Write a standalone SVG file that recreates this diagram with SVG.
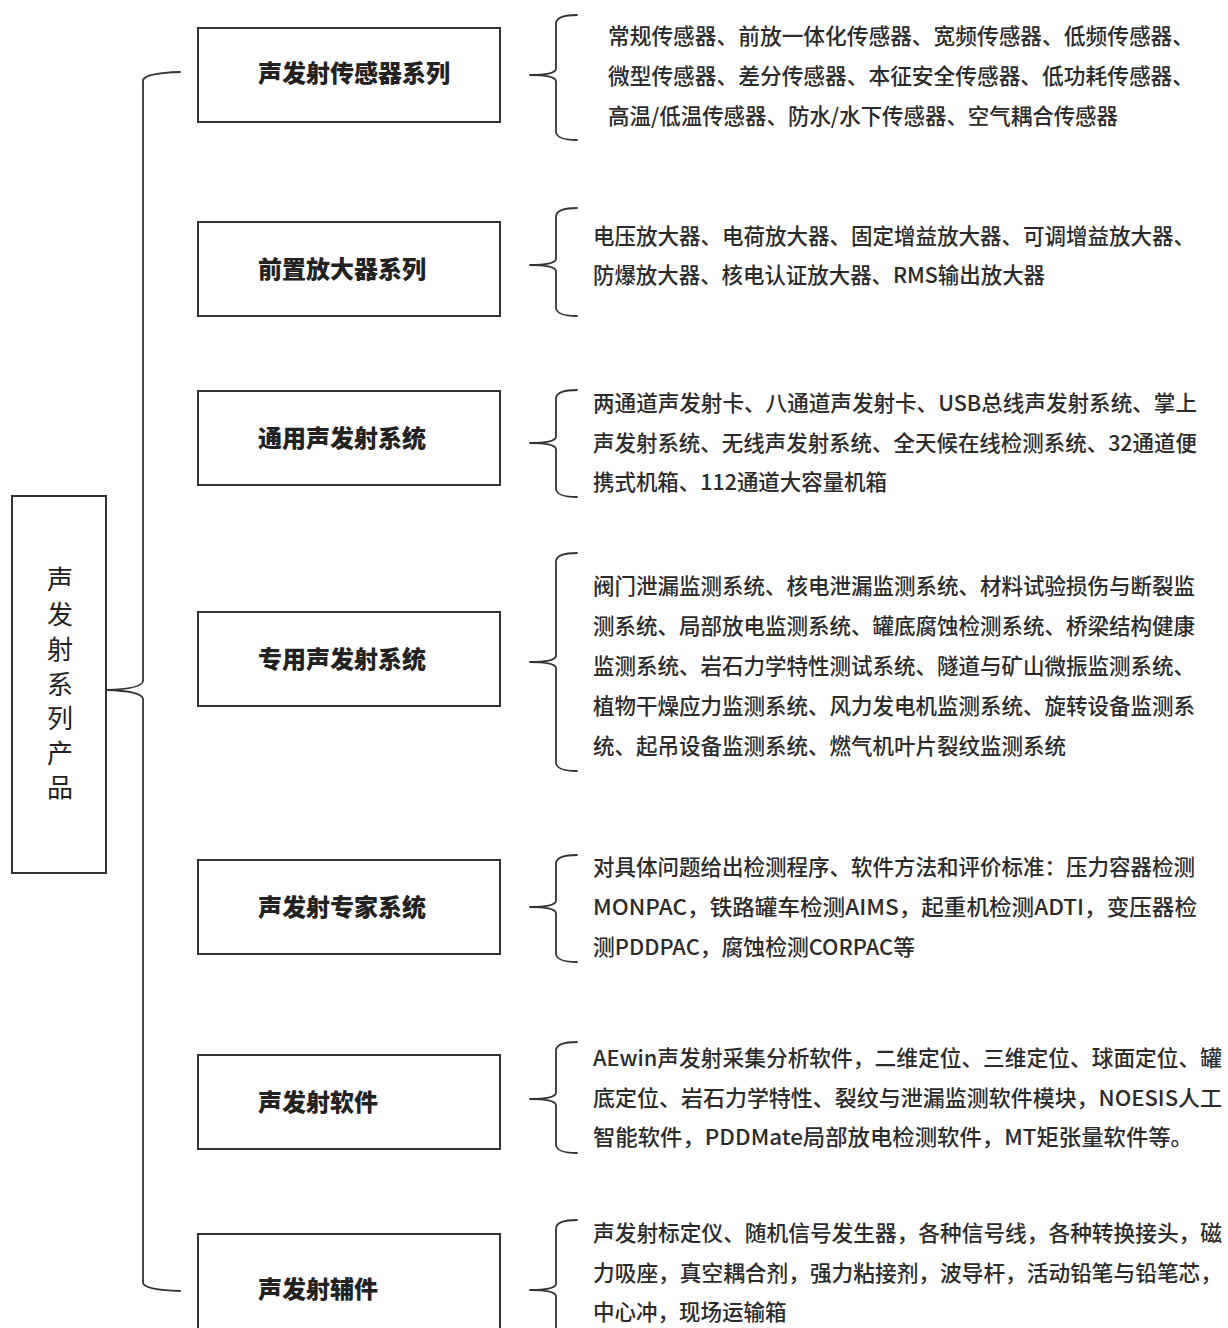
<svg xmlns="http://www.w3.org/2000/svg" width="1228" height="1328" viewBox="0 0 1228 1328">
<style>
.bg{fill:#ffffff}
.box{fill:#ffffff;stroke:#333333;stroke-width:2}
.br{fill:none;stroke:#333333;stroke-width:1.8;stroke-linecap:round;stroke-linejoin:round}
.bt{font-family:"Noto Sans CJK SC","Noto Sans",sans-serif;font-size:24px;font-weight:900;fill:#222222}
.rt{font-family:"Noto Sans CJK SC","Noto Sans",sans-serif;font-size:26px;fill:#222222;text-anchor:middle}
.it{font-family:"Noto Sans CJK SC","Noto Sans",sans-serif;font-size:21.5px;font-weight:500;fill:#2b2b2b}
</style>
<rect class="bg" x="0" y="0" width="1228" height="1328"/>

<g id="root">
<rect class="box" x="12" y="496" width="94" height="377"/>
<text class="rt" x="60" y="589">声</text>
<text class="rt" x="60" y="624">发</text>
<text class="rt" x="60" y="659">射</text>
<text class="rt" x="60" y="694">系</text>
<text class="rt" x="60" y="728">列</text>
<text class="rt" x="60" y="763">产</text>
<text class="rt" x="60" y="797">品</text>
</g>

<g id="connectors">
<path class="br" d="M180,72 Q146,73 143,80 L143,681 Q142,689 106,690 Q142,691 143,699 L143,1283 Q145,1290 180,1291"/>
<path class="br" d="M577,15 Q557,15 556,23 L556,69 Q555,75 530,75 Q555,75 556,81 L556,132 Q557,140 577,140"/>
<path class="br" d="M577,208 Q557,208 556,216 L556,259 Q555,265 530,265 Q555,265 556,271 L556,308 Q557,316 577,316"/>
<path class="br" d="M577,390 Q557,390 556,398 L556,437 Q555,443 530,443 Q555,443 556,449 L556,489 Q557,497 577,497"/>
<path class="br" d="M577,553 Q557,553 556,561 L556,656 Q555,662 530,662 Q555,662 556,668 L556,763 Q557,771 577,771"/>
<path class="br" d="M577,855 Q557,855 556,863 L556,901 Q555,907 530,907 Q555,907 556,913 L556,954 Q557,962 577,962"/>
<path class="br" d="M577,1042 Q557,1042 556,1050 L556,1093 Q555,1099 530,1099 Q555,1099 556,1105 L556,1145 Q557,1153 577,1153"/>
<path class="br" d="M577,1220 Q557,1220 556,1228 L556,1284 Q555,1290 530,1290 Q555,1290 556,1296 L556,1340"/>
</g>

<g id="n1">
<rect class="box" x="198" y="28" width="302" height="94"/>
<text class="bt" x="258" y="82">声发射传感器系列</text>
<text class="it" x="608" y="44" textLength="586" lengthAdjust="spacingAndGlyphs">常规传感器、前放一体化传感器、宽频传感器、低频传感器、</text>
<text class="it" x="608" y="84" textLength="586" lengthAdjust="spacingAndGlyphs">微型传感器、差分传感器、本征安全传感器、低功耗传感器、</text>
<text class="it" x="608" y="124" textLength="510" lengthAdjust="spacingAndGlyphs">高温/低温传感器、防水/水下传感器、空气耦合传感器</text>
</g>

<g id="n2">
<rect class="box" x="198" y="222" width="302" height="94"/>
<text class="bt" x="258" y="278">前置放大器系列</text>
<text class="it" x="593" y="244">电压放大器、电荷放大器、固定增益放大器、可调增益放大器、</text>
<text class="it" x="593" y="283" textLength="452" lengthAdjust="spacingAndGlyphs">防爆放大器、核电认证放大器、RMS输出放大器</text>
</g>

<g id="n3">
<rect class="box" x="198" y="391" width="302" height="94"/>
<text class="bt" x="258" y="447">通用声发射系统</text>
<text class="it" x="593" y="411" textLength="604" lengthAdjust="spacingAndGlyphs">两通道声发射卡、八通道声发射卡、USB总线声发射系统、掌上</text>
<text class="it" x="593" y="451" textLength="604" lengthAdjust="spacingAndGlyphs">声发射系统、无线声发射系统、全天候在线检测系统、32通道便</text>
<text class="it" x="593" y="490" textLength="294" lengthAdjust="spacingAndGlyphs">携式机箱、112通道大容量机箱</text>
</g>

<g id="n4">
<rect class="box" x="198" y="612" width="302" height="94"/>
<text class="bt" x="258" y="668">专用声发射系统</text>
<text class="it" x="593" y="594">阀门泄漏监测系统、核电泄漏监测系统、材料试验损伤与断裂监</text>
<text class="it" x="593" y="634">测系统、局部放电监测系统、罐底腐蚀检测系统、桥梁结构健康</text>
<text class="it" x="593" y="674">监测系统、岩石力学特性测试系统、隧道与矿山微振监测系统、</text>
<text class="it" x="593" y="714">植物干燥应力监测系统、风力发电机监测系统、旋转设备监测系</text>
<text class="it" x="593" y="754">统、起吊设备监测系统、燃气机叶片裂纹监测系统</text>
</g>

<g id="n5">
<rect class="box" x="198" y="860" width="302" height="94"/>
<text class="bt" x="258" y="916">声发射专家系统</text>
<text class="it" x="593" y="875">对具体问题给出检测程序、软件方法和评价标准：压力容器检测</text>
<text class="it" x="593" y="915" textLength="604" lengthAdjust="spacingAndGlyphs">MONPAC，铁路罐车检测AIMS，起重机检测ADTI，变压器检</text>
<text class="it" x="593" y="955" textLength="322" lengthAdjust="spacingAndGlyphs">测PDDPAC，腐蚀检测CORPAC等</text>
</g>

<g id="n6">
<rect class="box" x="198" y="1055" width="302" height="94"/>
<text class="bt" x="258" y="1111">声发射软件</text>
<text class="it" x="593" y="1066" textLength="629" lengthAdjust="spacingAndGlyphs">AEwin声发射采集分析软件，二维定位、三维定位、球面定位、罐</text>
<text class="it" x="593" y="1106" textLength="629" lengthAdjust="spacingAndGlyphs">底定位、岩石力学特性、裂纹与泄漏监测软件模块，NOESIS人工</text>
<text class="it" x="593" y="1145" textLength="600" lengthAdjust="spacingAndGlyphs">智能软件，PDDMate局部放电检测软件，MT矩张量软件等。</text>
</g>

<g id="n7">
<rect class="box" x="198" y="1234" width="302" height="100"/>
<text class="bt" x="258" y="1298">声发射辅件</text>
<text class="it" x="593" y="1241" textLength="629" lengthAdjust="spacingAndGlyphs">声发射标定仪、随机信号发生器，各种信号线，各种转换接头，磁</text>
<text class="it" x="593" y="1281" textLength="629" lengthAdjust="spacingAndGlyphs">力吸座，真空耦合剂，强力粘接剂，波导杆，活动铅笔与铅笔芯，</text>
<text class="it" x="593" y="1320">中心冲，现场运输箱</text>
</g>
</svg>
